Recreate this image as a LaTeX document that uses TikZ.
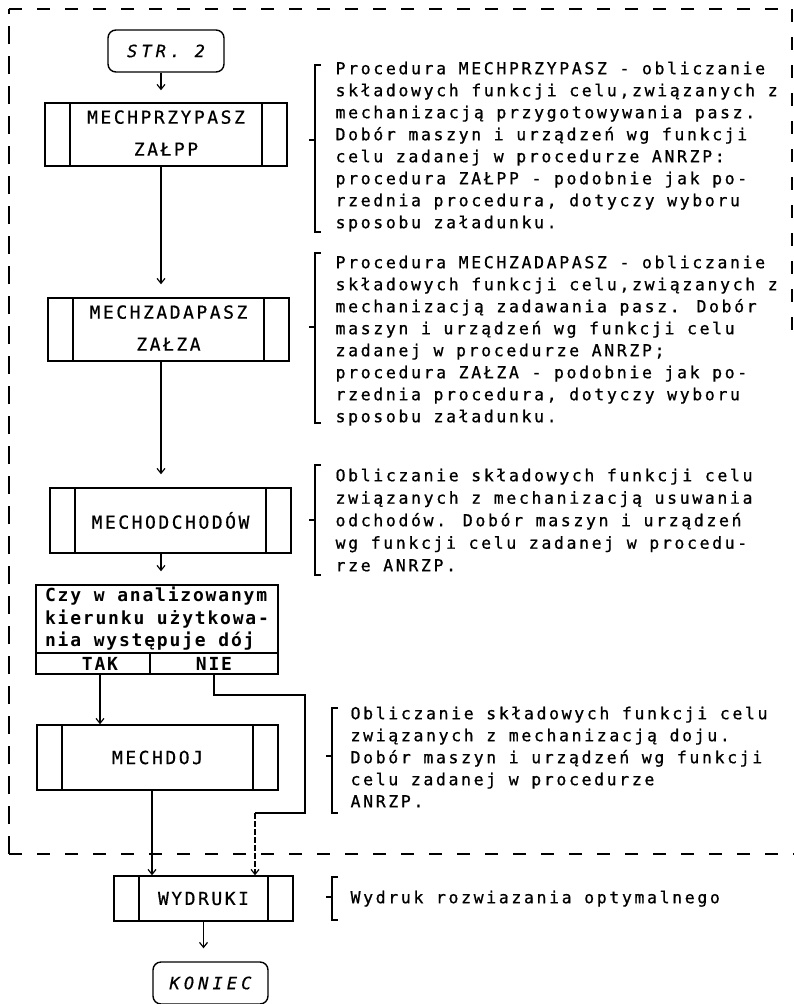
\documentclass[tikz,border=0pt]{standalone}
\usepackage{fontspec}
\usetikzlibrary{arrows.meta}
% dot-matrix-like monospaced lettering
\newfontfamily\annfont[LetterSpace=16,FakeBold=0.8]{DejaVu Sans Mono}
\newfontfamily\boxfont[LetterSpace=14,FakeBold=0.6]{DejaVu Sans Mono}
\newfontfamily\qfont[LetterSpace=10]{DejaVu Sans Mono}
\newfontfamily\termfont[LetterSpace=24,FakeBold=0.6]{DejaVu Sans Mono}
% square bracket with a tick: x, top, bottom, tick
\newcommand\bracketmark[4]{\draw[brk] (#1+6,#2) -- (#1,#2) -- (#1,#3) -- (#1+6,#3) (#1,#4) -- (#1-6,#4);}

\begin{document}
\begin{tikzpicture}[x=1pt,y=-1pt,
  line width=1.2pt,
  box/.style={draw,line width=1.4pt,inner sep=0pt},
  proc/.style={box,minimum width=241pt,minimum height=63pt,align=center,
    font=\boxfont\fontsize{18}{20}\selectfont,
    path picture={\draw[line width=1.2pt]
      ([xshift=25pt]path picture bounding box.north west) -- ([xshift=25pt]path picture bounding box.south west)
      ([xshift=-25pt]path picture bounding box.north east) -- ([xshift=-25pt]path picture bounding box.south east);}},
  term/.style={box,rounded corners=8pt,minimum width=116pt,minimum height=42pt,
    font=\termfont\itshape\fontsize{17}{19}\selectfont},
  cell/.style={box,font=\qfont\bfseries\fontsize{18}{22.5}\selectfont},
  ann/.style={anchor=north west,inner sep=0pt,align=left,
    font=\annfont\fontsize{16.5}{22}\selectfont},
  arr/.style={-{Straight Barb[length=5pt,width=8pt]},line width=1.2pt},
  brk/.style={line width=1.2pt},
  frame/.style={line width=1.4pt,dash pattern=on 13pt off 15pt},
  vframe/.style={line width=1.4pt,dash pattern=on 18pt off 12pt}
]
\useasboundingbox (0,0) rectangle (794,1004);

% dashed frame around the variable part
\draw[vframe] (9,854) -- (9,9);
\draw[frame] (9,9) -- (792,9);
\draw[frame] (792,9) -- (792,330);
\draw[frame] (9,854) -- (794,854);

% flow column positions
\coordinate (col) at (161,0);
\coordinate (takx) at (100,0);
\coordinate (dojx) at (152,0);

% blocks
\node[term] (str2) at (166,51) {STR. 2};
\node[proc,minimum width=242pt] (przy) at (166,134.5) {\raisebox{3pt}{MECHPRZYPASZ}\\[12pt]\raisebox{3pt}{ZAŁPP}};
\node[proc] (zada) at (168.5,329.5) {\raisebox{3pt}{MECHZADAPASZ}\\[12pt]\raisebox{3pt}{ZAŁZA}};
\node[proc,minimum height=65pt] (odch) at (170.5,520.5) {MECHODCHODÓW};
\node[cell,minimum width=242pt,minimum height=68pt,align=left] (dq) at (157,619)
  {Czy w analizowanym\\kierunku użytkowa-\\nia występuje dój};
\node[cell,minimum width=114pt,minimum height=21pt] (tak) at (93,663.5) {\hspace*{14pt}TAK};
\node[cell,minimum width=128pt,minimum height=21pt] (nie) at (214,663.5) {NIE};
\node[proc,minimum height=65pt] (doj) at (157.5,757.5) {MECHDOJ};
\node[proc,minimum width=179pt,minimum height=45pt] (wydr) at (203.5,898.5) {WYDRUKI};
\node[term,minimum width=115pt] (kon) at (210.5,983) {KONIEC};

% connectors
\draw[arr,shorten >=12pt] (str2.south -| col) -- (przy.north -| col);
\draw[arr,shorten >=13pt] (przy.south -| col) -- (zada.north -| col);
\draw[arr,shorten >=13pt] (zada.south -| col) -- (odch.north -| col);
\draw[arr,shorten >=13pt] (odch.south -| col) -- (dq.north -| col);
\draw[arr] (tak.south -| takx) -- (doj.north -| takx);
\draw[arr] (doj.south -| dojx) -- (wydr.north -| dojx);
\coordinate (nr) at (305,695);
\coordinate (nb) at (255,813);
\draw (nie.south) |- (nr) -- (nr |- nb) -- (nb);
\draw[arr,dash pattern=on 6pt off 2pt] (nb) -- (wydr.north -| nb);
\draw[arr,shorten >=13pt] (wydr.south) -- (wydr.south |- kon.north);

% descriptions
\bracketmark{315}{65}{232}{140}
\node[ann] (a1) at (335,61) {Procedura MECHPRZYPASZ - obliczanie\\
składowych funkcji celu,związanych z\\
mechanizacją przygotowywania pasz.\\
Dobór maszyn i urządzeń wg funkcji\\
celu zadanej w procedurze ANRZP:\\
procedura ZAŁPP - podobnie jak po-\\
rzednia procedura, dotyczy wyboru\\
sposobu załadunku.};

\bracketmark{315}{253}{423}{327}
\node[ann] (a2) at (335,255) {Procedura MECHZADAPASZ - obliczanie\\
składowych funkcji celu,związanych z\\
mechanizacją zadawania pasz. Dobór\\
maszyn i urządzeń wg funkcji celu\\
zadanej w procedurze ANRZP;\\
procedura ZAŁZA - podobnie jak po-\\
rzednia procedura, dotyczy wyboru\\
sposobu załadunku.};

\bracketmark{315}{465}{575}{520}
\node[ann,font=\annfont\fontsize{16.5}{22.5}\selectfont] (a3) at (335,468) {Obliczanie składowych funkcji celu\\
związanych z mechanizacją usuwania\\
odchodów. Dobór maszyn i urządzeń\\
wg funkcji celu zadanej w procedu-\\
rze ANRZP.};

\bracketmark{332}{708}{813}{756}
\node[ann] (a4) at (350,706) {Obliczanie składowych funkcji celu\\
związanych z mechanizacją doju.\\
Dobór maszyn i urządzeń wg funkcji\\
celu zadanej w procedurze\\
ANRZP.};

\bracketmark{332}{877}{920}{897}
\node[ann] (a5) at (350,890) {Wydruk rozwiazania optymalnego};
\end{tikzpicture}
\end{document}
